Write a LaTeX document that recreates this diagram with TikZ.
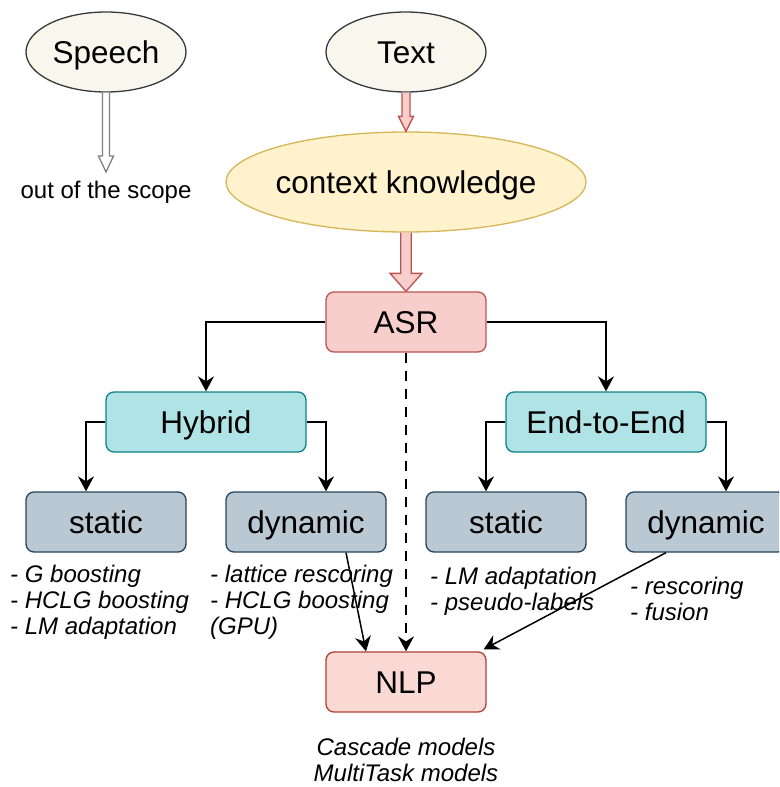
\documentclass[tikz,border=0pt]{standalone}
\usepackage{fontspec}
\setmainfont{Liberation Sans}
\usetikzlibrary{arrows.meta,calc,shapes.geometric}

\definecolor{noteFill}{HTML}{F9F7ED}
\definecolor{noteLine}{HTML}{36393D}
\definecolor{ckFill}{HTML}{FFF2CC}
\definecolor{ckLine}{HTML}{D6B656}
\definecolor{asrFill}{HTML}{F8CECC}
\definecolor{asrLine}{HTML}{B85450}
\definecolor{nlpFill}{HTML}{FAD9D5}
\definecolor{nlpLine}{HTML}{AE4132}
\definecolor{tealFill}{HTML}{B0E3E6}
\definecolor{tealLine}{HTML}{0E8088}
\definecolor{slateFill}{HTML}{BAC8D3}
\definecolor{slateLine}{HTML}{23445D}
\definecolor{arrowGray}{HTML}{808080}

\begin{document}
\begin{tikzpicture}[x=1pt,y=-1pt,
  big/.style={font=\fontsize{31.5}{36}\selectfont, text height=22.5pt, text depth=0pt},
  small/.style={font=\fontsize{24}{26}\selectfont\itshape, inner sep=0pt},
  plain/.style={font=\fontsize{24}{26}\selectfont, inner sep=0pt},
  oval/.style={ellipse, draw, line width=1.3pt, inner sep=0pt, big},
  box/.style={rectangle, rounded corners=8pt, draw, line width=1.3pt,
    minimum width=160pt, minimum height=60pt, inner sep=0pt, big},
  tealbox/.style={box, fill=tealFill, draw=tealLine, minimum width=200pt},
  slatebox/.style={box, fill=slateFill, draw=slateLine},
  conn/.style={line width=1.5pt, -{Stealth[length=15pt,width=16pt,inset=5pt]}},
  fat/.style={line width=1.3pt, line join=miter},
]
\clip (0,0) rectangle (779,787);

% sources
\node[oval, fill=noteFill, draw=noteLine, minimum width=160pt, minimum height=80pt] (speech) at (106,52) {Speech};
\node[oval, fill=noteFill, draw=noteLine, minimum width=160pt, minimum height=80pt] (text) at (406,52) {Text};
\node[oval, fill=ckFill, draw=ckLine, minimum width=360pt, minimum height=100pt] (ck) at (406,182) {\makebox[0pt]{context knowledge}};
\node[plain, anchor=base] (oot) at (106,198) {out of the scope};
\coordinate (sTip) at (106,172);

% recognition tree
\node[box, fill=asrFill, draw=asrLine] (asr) at (406,322) {ASR};
\node[tealbox] (hyb) at (206,422) {Hybrid};
\node[tealbox] (e2e) at (606,422) {End-to-End};
\node[slatebox] (hs) at (106,522) {static};
\node[slatebox] (hd) at (306,522) {dynamic};
\node[slatebox] (es) at (506,522) {static};
\node[slatebox] (ed) at (706,522) {dynamic};
\node[box, fill=nlpFill, draw=nlpLine] (nlp) at (406,682) {NLP};

% method lists
\node[small, anchor=base west] (hsl) at (10,582)
  {\begin{tabular}[t]{@{}l@{}}- G boosting\\- HCLG boosting\\- LM adaptation\end{tabular}};
\node[small, anchor=base west] (hdl) at (210,582)
  {\begin{tabular}[t]{@{}l@{}}- lattice rescoring\\- HCLG boosting\\(GPU)\end{tabular}};
\node[small, anchor=base west] (esl) at (430,584)
  {\begin{tabular}[t]{@{}l@{}}- LM adaptation\\- pseudo-labels\end{tabular}};
\node[small, anchor=base west] (edl) at (630,594)
  {\begin{tabular}[t]{@{}l@{}}- rescoring\\- fusion\end{tabular}};
\node[small, anchor=base] (nlpl) at (406,755)
  {\begin{tabular}[t]{@{}c@{}}Cascade models\\MultiTask models\end{tabular}};

% block arrows
\filldraw[fat, fill=white, draw=arrowGray]
  ($(speech.south)+(-3.5,0)$) -- ($(sTip)+(-3.5,-16)$) -- ($(sTip)+(-7.5,-16)$) -- (sTip)
  -- ($(sTip)+(7.5,-16)$) -- ($(sTip)+(3.5,-16)$) -- ($(speech.south)+(3.5,0)$);
\filldraw[fat, fill=asrFill, draw=asrLine]
  ($(text.south)+(-4,0)$) -- ($(ck.north)+(-4,-15)$) -- ($(ck.north)+(-7.5,-15)$) -- (ck.north)
  -- ($(ck.north)+(7.5,-15)$) -- ($(ck.north)+(4,-15)$) -- ($(text.south)+(4,0)$);
\filldraw[fat, fill=asrFill, draw=asrLine]
  ($(ck.south)+(-5.3,0)$) -- ($(asr.north)+(-5.3,-18)$) -- ($(asr.north)+(-16,-18)$) -- (asr.north)
  -- ($(asr.north)+(16,-18)$) -- ($(asr.north)+(5.3,-18)$) -- ($(ck.south)+(5.3,0)$);

% connectors
\draw[conn] (asr.west) -| (hyb.north);
\draw[conn] (asr.east) -| (e2e.north);
\draw[conn] (hyb.west) -| ($(hs.north)+(-20,0)$);
\draw[conn] (hyb.east) -| ($(hd.north)+(20,0)$);
\draw[conn] (e2e.west) -| ($(es.north)+(-20,0)$);
\draw[conn] (e2e.east) -| ($(ed.north)+(20,0)$);
\draw[conn, dash pattern=on 10pt off 8pt] (asr.south) -- (nlp.north);
\draw[conn] ($(hd.south)+(40,0)$) -- ($(nlp.north)+(-40,0)$);
\draw[conn] ($(ed.south)+(-40,0)$) -- ($(nlp.north east)+(-3,-2)$);
\end{tikzpicture}
\end{document}
